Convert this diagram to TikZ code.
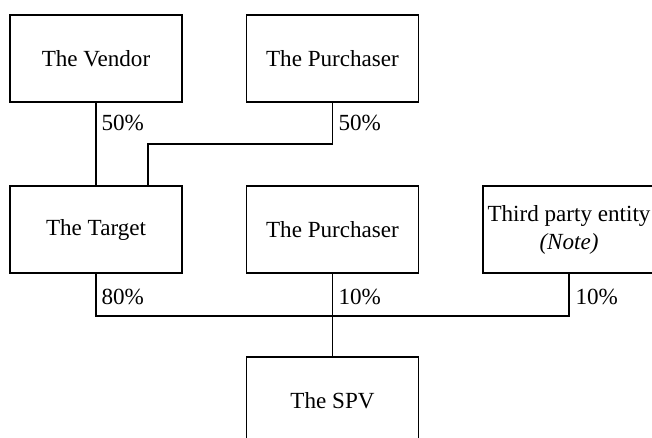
\documentclass[tikz,border=0pt]{standalone}
\usepackage{fontspec}
\setmainfont{Liberation Serif}
\begin{document}
\begin{tikzpicture}[x=0.5pt,y=-0.5pt,line width=0.6pt,
  entity/.style={draw,minimum width=86pt,minimum height=43.5pt,inner sep=0pt,align=center,
    font=\fontsize{11.55}{14}\selectfont},
  share/.style={anchor=west,inner sep=0pt,font=\fontsize{11.55}{14}\selectfont}]
  \useasboundingbox (0,0) rectangle (652,438);
  \clip (0,0) rectangle (652,438);

  % Shareholders of the target
  \node[entity] (vendor) at (96,58.5) {The Vendor};
  \node[entity] (buyer) at (332.5,58.5) {The Purchaser};

  % Shareholders of the SPV
  \node[entity] (target) at (96,229.5) {The Target};
  \node[entity] (buyer2) at (332.5,229.5) {The Purchaser};
  \node[entity] (third) at (569,229.5) {Third party entity\\\textit{(Note)}};

  \node[entity] (spv) at (332.5,400.5) {The SPV};

  % Joints of the connectors
  \coordinate (tgtin) at (148,186);
  \coordinate (join) at (332.5,316);

  \draw (vendor.south) -- (target.north);
  \draw (buyer.south) -- (buyer.south |- 0,144) -| (tgtin);
  \node[share] (v50) at (101,123) {50\%};
  \node[share] (p50) at (338,123) {50\%};

  \draw (target.south) -- (target.south |- join) -| (third.south);
  \draw (buyer2.south) -- (spv.north);
  \node[share] (t80) at (101,297) {80\%};
  \node[share] (p10) at (338,297) {10\%};
  \node[share] (e10) at (575,297) {10\%};
\end{tikzpicture}
\end{document}
